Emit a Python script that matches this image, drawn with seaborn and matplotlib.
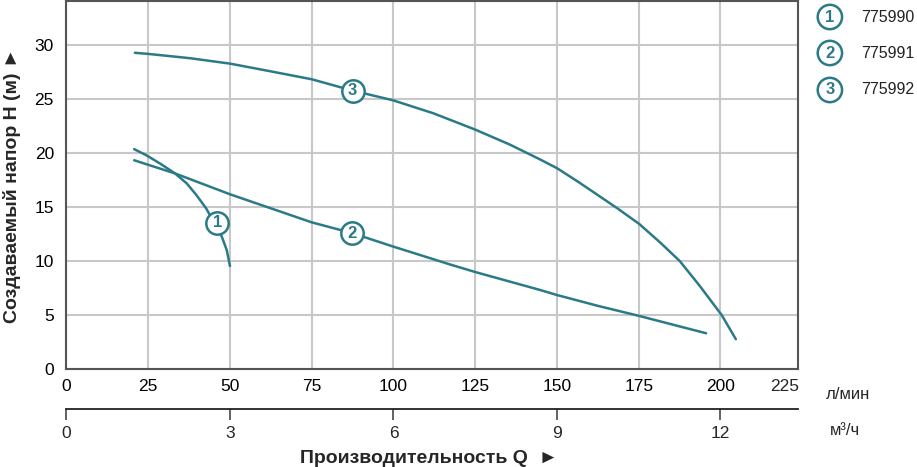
import matplotlib.pyplot as plt
import seaborn as sns
import pandas as pd
import numpy as np

# Pump head curves (Q in l/min, H in m)
q1 = [20.7, 24.5, 28.6, 33.2, 36.8, 39.8, 42.7, 45.2, 47.5, 49.0, 50.0]
h1 = [20.38, 19.8, 19.05, 18.13, 17.2, 16.1, 14.9, 13.56, 12.27, 11.04, 9.56]

q2 = [20.7, 33.2, 50, 75, 87.4, 100, 117.3, 125, 144.8, 150, 162.6, 175.2, 195.6]
h2 = [19.35, 18.13, 16.2, 13.6, 12.6, 11.35, 9.7, 9.0, 7.34, 6.87, 5.86, 4.93, 3.33]

q3 = [20.9, 25, 37.8, 50, 62.2, 75, 87.5, 99.9, 112.2, 124.9, 135.6, 144.8, 150.1,
      157.0, 163.1, 168.7, 175.2, 181.5, 187.6, 193.7, 200.4, 204.7]
h3 = [29.3, 29.2, 28.8, 28.3, 27.6, 26.85, 25.8, 24.9, 23.7, 22.2, 20.8, 19.43, 18.6,
      17.25, 16.0, 14.85, 13.44, 11.75, 10.0, 7.7, 5.0, 2.78]

models = ["775990", "775991", "775992"]
label_pos = [(46.1, 13.56), (87.4, 12.6), (87.5, 25.8)]

x_ticks = list(range(0, 201, 25))
y_ticks = list(range(0, 31, 5))
m3h_ticks = [0, 3, 6, 9, 12]
q_max = 223.7      # right edge of the frame, l/min
lpm_per_m3h = 1000 / 60

teal = "#2B7A87"

sns.set_theme(style="whitegrid")
plt.rcParams['font.family'] = ['Liberation Sans', 'DejaVu Sans']

frames = []
for i, (q, h) in enumerate([(q1, h1), (q2, h2), (q3, h3)]):
    frames.append(pd.DataFrame({"Q": q, "H": h, "model": models[i]}))
df = pd.concat(frames, ignore_index=True)

fig = plt.figure(figsize=(9.17, 4.67), dpi=100)
ax = fig.add_axes([0.0725, 0.2094, 0.7977, 0.7885])

sns.lineplot(data=df, x="Q", y="H", units="model", estimator=None, sort=False,
             color=teal, linewidth=1.8, ax=ax, legend=False)
for ln in ax.get_lines():
    ln.set_solid_joinstyle('round')

ax.set_xlim(0, q_max)
ax.set_ylim(0, 34.1)
ax.set_xticks(x_ticks)
ax.set_yticks(y_ticks)
ax.tick_params(axis='both', length=0, labelsize=12.5, colors='black')
ax.tick_params(axis='x', pad=7)
ax.tick_params(axis='y', pad=9)
ax.grid(True, color='#c8c8c8', linewidth=1.5)
for s in ax.spines.values():
    s.set_visible(True)
    s.set_color('#555555')
    s.set_linewidth(1.5)
ax.set_xlabel("")
ax.set_ylabel("Создаваемый напор Н (м) ►", fontsize=14, fontweight='bold', labelpad=10)

# last label "225" sits just inside the right frame
ax.annotate("225", xy=(219.7, 0), xycoords=('data', 'axes fraction'),
            xytext=(0, -7), textcoords='offset points',
            ha='center', va='top', fontsize=12.5)

# numbered markers on the curves
for i, (x, y) in enumerate(label_pos):
    ax.scatter([x], [y], s=260, facecolor='white', edgecolor=teal, linewidth=1.8, zorder=5)
    ax.text(x, y, str(i + 1), ha='center', va='center', color=teal,
            fontsize=12, fontweight='bold', zorder=6)

# second axis in m3/h
ax2 = fig.add_axes([0.0725, 0.1242, 0.7977, 0.001])
ax2.set_xlim(0, q_max / lpm_per_m3h)
ax2.set_xticks(m3h_ticks)
ax2.set_yticks([])
ax2.set_facecolor('none')
ax2.grid(False)
for k in ['left', 'right', 'top']:
    ax2.spines[k].set_visible(False)
ax2.spines['bottom'].set_color('#222222')
ax2.spines['bottom'].set_linewidth(1.3)
ax2.tick_params(axis='x', direction='out', length=8, width=1.3, color='#555555',
                labelsize=12.5, pad=4, bottom=True)

fig.text(0.925, 0.155, "л/мин", fontsize=12, ha='center', va='center')
fig.text(0.922, 0.078, "м³/ч", fontsize=12, ha='center', va='center')
fig.text(0.468, 0.019, "Производительность Q  ►", fontsize=14, fontweight='bold',
         ha='center', va='center')

# legend at the right
for i, m in enumerate(models):
    yy = 1 - [17, 53, 90][i] / 467
    fig.text(0.905, yy, str(i + 1), ha='center', va='center', color=teal, fontsize=12,
             fontweight='bold',
             bbox=dict(boxstyle='circle,pad=0.28', facecolor='white', edgecolor=teal, linewidth=1.8))
    fig.text(0.939, yy, m, ha='left', va='center', fontsize=11.5, color='#222222')

fig.savefig("out.png", dpi=100)
